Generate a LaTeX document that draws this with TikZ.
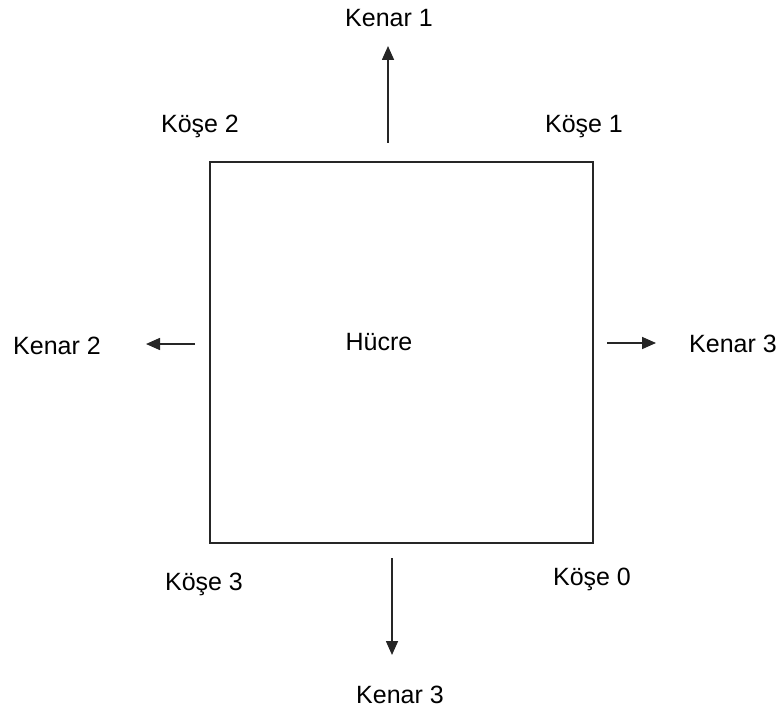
\documentclass[tikz,border=0pt]{standalone}
\usepackage{fontspec}
\setmainfont{Liberation Sans}
\usetikzlibrary{arrows.meta}
\begin{document}
\begin{tikzpicture}[x=1pt,y=-1pt,
  lbl/.style={font=\fontsize{25}{30}\selectfont, inner sep=0pt, anchor=base},
  cellbox/.style={draw=black!85, line width=2pt, minimum width=383pt, minimum height=381pt, inner sep=0pt},
  edgearrow/.style={draw=black!85, line width=1.6pt, -{Triangle[length=14pt,width=12pt]}}]
\useasboundingbox (0,0) rectangle (783,711);
\node[cellbox] (box) at (401.5,352.5) {};
\node[lbl] (hucre) at (379,350) {Hücre};
\node[lbl] (k1) at (389,27) {Kenar 1};
\node[lbl] (k2) at (57,354) {Kenar 2};
\node[lbl] (k3r) at (733,352) {Kenar 3};
\node[lbl] (k3b) at (400,703) {Kenar 3};
\node[lbl] (c2) at (200,133) {Köşe 2};
\node[lbl] (c1) at (584,133) {Köşe 1};
\node[lbl] (c3) at (204,590) {Köşe 3};
\node[lbl] (c0) at (592,585) {Köşe 0};
\coordinate (upS) at (388,143);
\coordinate (upE) at (388,46);
\coordinate (leftS) at (195,344);
\coordinate (leftE) at (146,344);
\coordinate (rightS) at (607,343);
\coordinate (rightE) at (656,343);
\coordinate (downS) at (392,558);
\coordinate (downE) at (392,655);
\draw[edgearrow] (upS) -- (upE);
\draw[edgearrow] (leftS) -- (leftE);
\draw[edgearrow] (rightS) -- (rightE);
\draw[edgearrow] (downS) -- (downE);
\end{tikzpicture}
\end{document}
